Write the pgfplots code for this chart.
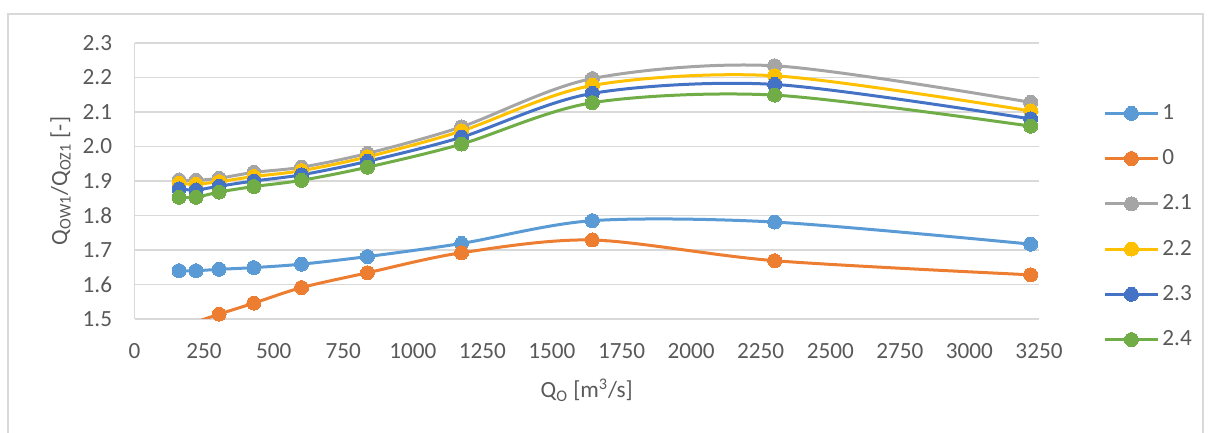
\documentclass[border=0pt]{standalone}
\usepackage{pgfplots}
\usepackage{pgfplotstable}
\pgfplotsset{compat=1.18}
\usepackage{fontspec}
\setmainfont{Carlito}

\definecolor{sOne}{HTML}{5B9BD5}
\definecolor{sZero}{HTML}{ED7D31}
\definecolor{sTwoOne}{HTML}{A5A5A5}
\definecolor{sTwoTwo}{HTML}{FFC000}
\definecolor{sTwoThree}{HTML}{4472C4}
\definecolor{sTwoFour}{HTML}{70AD47}
\definecolor{gridgray}{HTML}{D9D9D9}
\definecolor{textgray}{HTML}{595959}

\newcommand{\chartfont}{\fontsize{11.6pt}{13.9pt}\selectfont}

% series "0": its first two points lie below the visible range
\pgfplotstableread{
x     y
160   1.460
221   1.490
304   1.514
429   1.546
600   1.591
837   1.634
1175  1.692
1645  1.729
2300  1.669
3220  1.628
}\zerodata

\pgfplotsset{
  ser/.style={
    smooth, line width=1.5pt, color=#1,
    mark=*, mark size=3.5pt,
    mark options={solid, fill=#1, draw=#1, line width=0pt}
  }
}

\begin{document}
\begin{tikzpicture}[x=0.5pt,y=0.5pt]
\useasboundingbox (0,0) rectangle (1211,433);
% outer chart frame
\draw[gridgray, line width=0.8pt] (8,419) rectangle (1203,-20);
\begin{axis}[
  at={(67.25pt,57pt)}, anchor=south west,
  scale only axis, width=452.25pt, height=138pt,
  xmin=0, xmax=3250, ymin=1.5, ymax=2.3,
  xtick={0,250,...,3250},
  ytick={1.5,1.6,1.7,1.8,1.9,2.0,2.1,2.2,2.3},
  major tick length=0pt,
  ymajorgrids, grid style={gridgray, line width=0.6pt},
  axis line style={gridgray, line width=0.6pt},
  axis x line*=bottom, axis y line*=left,
  separate axis lines,
  x axis line style={-}, y axis line style={-},
  tick label style={font=\chartfont, text=textgray, inner sep=0pt},
  xticklabel style={yshift=-12pt},
  yticklabel style={xshift=-11pt},
  /pgf/number format/assume math mode=true,
  /pgf/number format/1000 sep={},
  yticklabel={\pgfmathprintnumber[fixed, fixed zerofill, precision=1]{\tick}},
  every axis x label/.style={at={(rel axis cs:0.5,0)}, anchor=center, yshift=-35.5pt, font=\chartfont, text=textgray},
  every axis y label/.style={at={(rel axis cs:0,0.5)}, xshift=-37pt, rotate=90, anchor=center, font=\chartfont, text=textgray},
  xlabel={Q\textsubscript{O} [m\textsuperscript{3}/s]},
  ylabel={Q\textsubscript{OW1}/Q\textsubscript{OZ1} [-]},
  legend cell align=left,
  legend style={
    at={(rel axis cs:1.0708,0.79)}, anchor=north west,
    draw=none, fill=none, font=\chartfont, text=textgray,
    row sep=10.6pt, inner sep=0pt,
    nodes={inner sep=1.5pt}
  },
  legend image code/.code={
    \draw[sharp plot] (0pt,0pt) -- (26.5pt,0pt);
    \draw[only marks] plot coordinates {(13.25pt,0pt)};
  },
]
\addplot[ser=sOne] coordinates {
  (160,1.640) (221,1.640) (304,1.644) (429,1.649) (600,1.659)
  (837,1.681) (1175,1.719) (1645,1.785) (2300,1.781) (3220,1.717)};
\addlegendentry{1}
\addlegendimage{ser=sZero}
\addlegendentry{0}
\addplot[ser=sZero, no markers, forget plot] table[x=x, y=y] {\zerodata};
\addplot[ser=sZero, only marks, forget plot,
  restrict y to domain=1.5:3, unbounded coords=discard] table[x=x, y=y] {\zerodata};
\addplot[ser=sTwoOne] coordinates {
  (160,1.903) (221,1.902) (304,1.908) (429,1.925) (600,1.940)
  (837,1.980) (1175,2.057) (1645,2.197) (2300,2.234) (3220,2.128)};
\addlegendentry{2.1}
\addplot[ser=sTwoTwo] coordinates {
  (160,1.893) (221,1.891) (304,1.898) (429,1.913) (600,1.930)
  (837,1.970) (1175,2.045) (1645,2.177) (2300,2.205) (3220,2.103)};
\addlegendentry{2.2}
\addplot[ser=sTwoThree] coordinates {
  (160,1.877) (221,1.874) (304,1.885) (429,1.900) (600,1.918)
  (837,1.957) (1175,2.027) (1645,2.154) (2300,2.180) (3220,2.080)};
\addlegendentry{2.3}
\addplot[ser=sTwoFour] coordinates {
  (160,1.853) (221,1.853) (304,1.868) (429,1.884) (600,1.902)
  (837,1.940) (1175,2.007) (1645,2.127) (2300,2.149) (3220,2.059)};
\addlegendentry{2.4}
\end{axis}
\end{tikzpicture}
\end{document}
